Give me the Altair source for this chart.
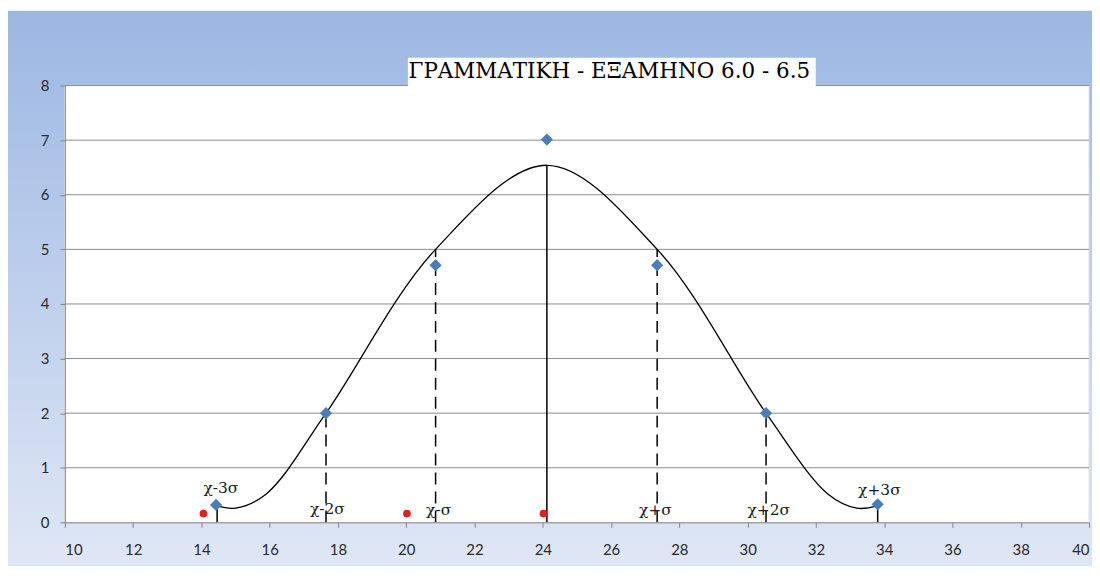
import altair as alt
import pandas as pd

# ---- data ----
curve_x = [14.46, 15.0, 15.9, 17.65, 20.86, 24.12, 27.35, 30.54, 32.35, 33.2, 33.81]
curve_y = [0.30, 0.26, 0.52, 2.0, 5.0, 6.54, 5.0, 2.0, 0.52, 0.26, 0.30]

diamond_x = [14.43, 17.65, 20.86, 24.12, 27.35, 30.54, 33.81]
diamond_y = [0.32, 2.0, 4.71, 7.01, 4.71, 2.0, 0.33]

red_x = [14.06, 20.02, 24.02]
red_y = [0.16, 0.16, 0.16]

solid_x = [14.46, 24.12, 33.81]
solid_top = [0.30, 6.54, 0.30]
dashed_x = [17.65, 20.86, 27.35, 30.54]
dashed_top = [2.0, 5.0, 5.0, 2.0]

label_text = ["χ-3σ", "χ-2σ", "χ-σ", "χ+σ", "χ+2σ", "χ+3σ"]
label_x = [14.57, 17.69, 20.95, 27.3, 30.62, 33.86]
label_y = [0.62, 0.24, 0.23, 0.23, 0.23, 0.60]

x_ticks = list(range(10, 41, 2))
y_ticks = list(range(0, 9))

title_text = "ΓΡΑΜΜΑΤΙΚΗ - ΕΞΑΜΗΝΟ 6.0 - 6.5"

W, H = 1027, 438
SERIF = "DejaVu Serif"

xs = alt.Scale(domain=[10, 40], nice=False, zero=False)
ys = alt.Scale(domain=[0, 8], nice=False, zero=True)
axis_common = dict(
    grid=False, domainColor="#868686", tickColor="#868686", tickSize=5,
    labelFont="Lato", labelFontSize=15, labelColor="#2a2a2a", title=None, zindex=1,
)
xaxis = alt.Axis(values=x_ticks, labelPadding=15, **axis_common)
yaxis = alt.Axis(values=y_ticks, labelPadding=11, **axis_common)

one = pd.DataFrame({"a": [0]})

bg = alt.Chart(one).mark_rect(
    clip=False,
    fill={"gradient": "linear", "x1": 0, "y1": 0, "x2": 0, "y2": 1,
          "stops": [{"offset": 0, "color": "#9cb7e3"}, {"offset": 1, "color": "#dfe7f5"}]},
).encode(x=alt.value(-57), x2=alt.value(1030), y=alt.value(-75), y2=alt.value(482))

plot_bg = alt.Chart(one).mark_rect(fill="white", stroke="#e2e2e2", strokeWidth=1).encode(
    x=alt.datum(10, scale=xs, axis=xaxis), x2=alt.datum(40),
    y=alt.datum(0, scale=ys, axis=yaxis), y2=alt.datum(8),
)

grid = alt.Chart(pd.DataFrame({"v": y_ticks[1:]})).mark_rule(color="#8c8c8c", strokeWidth=1).encode(
    y=alt.Y("v:Q", scale=ys, axis=yaxis)
)

solid = alt.Chart(pd.DataFrame({"x": solid_x, "t": solid_top, "b": [0] * 3})).mark_rule(
    color="black", strokeWidth=1.5
).encode(x=alt.X("x:Q", scale=xs, axis=xaxis), y=alt.Y("b:Q", scale=ys, axis=yaxis), y2="t:Q")

dashed = alt.Chart(pd.DataFrame({"x": dashed_x, "t": dashed_top, "b": [0] * 4})).mark_rule(
    color="black", strokeWidth=1.5, strokeDash=[12, 7]
).encode(x=alt.X("x:Q", scale=xs, axis=xaxis), y=alt.Y("b:Q", scale=ys, axis=yaxis), y2="t:Q")

curve = alt.Chart(pd.DataFrame({"x": curve_x, "y": curve_y})).mark_line(
    interpolate="catmull-rom", color="black", strokeWidth=1.3
).encode(x=alt.X("x:Q", scale=xs, axis=xaxis), y=alt.Y("y:Q", scale=ys, axis=yaxis))

diamonds = alt.Chart(pd.DataFrame({"x": diamond_x, "y": diamond_y})).mark_point(
    shape="diamond", filled=True, size=150, color="#4a7ebb", opacity=1
).encode(x=alt.X("x:Q", scale=xs, axis=xaxis), y=alt.Y("y:Q", scale=ys, axis=yaxis))

reds = alt.Chart(pd.DataFrame({"x": red_x, "y": red_y})).mark_circle(
    size=60, color="#e0201b", opacity=1
).encode(x=alt.X("x:Q", scale=xs, axis=xaxis), y=alt.Y("y:Q", scale=ys, axis=yaxis))

labels = alt.Chart(pd.DataFrame({"x": label_x, "y": label_y, "t": label_text})).mark_text(
    font=SERIF, fontSize=15.5, color="#1a1a1a", baseline="middle", align="center"
).encode(x=alt.X("x:Q", scale=xs, axis=xaxis), y=alt.Y("y:Q", scale=ys, axis=yaxis), text="t:N")

title_box = alt.Chart(one).mark_rect(fill="white", clip=False).encode(
    x=alt.value(344), x2=alt.value(753), y=alt.value(-28), y2=alt.value(8)
)
title = alt.Chart(pd.DataFrame({"t": [title_text]})).mark_text(
    font=SERIF, fontSize=21.5, color="black", baseline="middle", align="center", clip=False
).encode(x=alt.value(546), y=alt.value(-14), text="t:N")

chart = alt.layer(
    bg, plot_bg, grid, solid, dashed, curve, diamonds, reds, labels, title_box, title
).properties(
    width=W, height=H, padding={"left": 0, "top": 2, "right": 0, "bottom": 0}
).configure_view(stroke=None)

chart.save("out.html", embed_options={"renderer": "svg", "actions": False})
